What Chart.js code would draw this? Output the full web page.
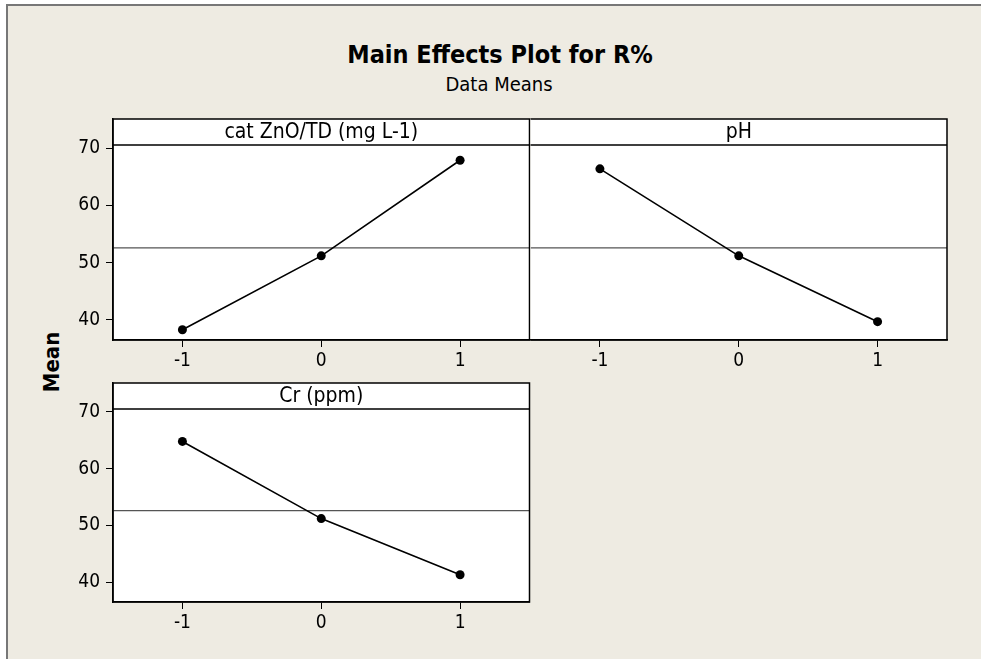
<!DOCTYPE html>
<html>
<head>
<meta charset="utf-8">
<title>Main Effects Plot for R%</title>
<script src="https://cdn.jsdelivr.net/npm/chart.js@4.4.1/dist/chart.umd.min.js"></script>
<style>
  html, body { margin: 0; padding: 0; background: #ffffff; }
  #page {
    position: relative; width: 981px; height: 659px; overflow: hidden; background: #ffffff;
    font-family: 'DejaVu Sans Condensed', 'DejaVu Sans', sans-serif; color: #000;
  }
  #frame {
    position: absolute; left: 6px; top: 4px; right: 0; bottom: 0;
    background: #EEEBE2; border-left: 2px solid #777; border-top: 2px solid #777;
  }
  .txt { position: absolute; white-space: nowrap; text-align: center; }
  #mainTitle { left: 0; width: 1000px; top: 39px; font-size: 25px; font-weight: bold; line-height: 32px; }
  #subTitle { left: 0; width: 998px; top: 72px; font-size: 20px; line-height: 24px; }
  #yTitle {
    left: 52px; top: 362px; font-size: 22px; font-weight: bold; line-height: 24px;
    transform: translate(-50%, -50%) rotate(-90deg);
  }
  canvas { position: absolute; }
</style>
</head>
<body>
<div id="page">
  <div id="frame"></div>
  <div class="txt" id="mainTitle">Main Effects Plot for R%</div>
  <div class="txt" id="subTitle">Data Means</div>
  <div class="txt" id="yTitle">Mean</div>
  <canvas id="pZnO" width="494" height="270" style="left:40px;top:110px;"></canvas>
  <canvas id="pPH" width="434" height="270" style="left:526px;top:110px;"></canvas>
  <canvas id="pCr" width="494" height="270" style="left:40px;top:374px;"></canvas>
</div>
<script>
// Factor levels (coded) and the mean response R% at each level
const levels = [-1, 0, 1];
const catZnOMeans = [38.3, 51.2, 67.9];
const pHMeans = [66.4, 51.2, 39.7];
const crMeans = [64.8, 51.2, 41.3];
const grandMean = 52.6;

// Axis ticks and panel labels
const xTickValues = [-1, 0, 1];
const yTickValues = [40, 50, 60, 70];
const panelLabels = ['cat ZnO/TD (mg L-1)', 'pH', 'Cr (ppm)'];

const FONT = "'DejaVu Sans Condensed', 'DejaVu Sans', sans-serif";
const STRIP_H = 26;   // height of the label strip at the top of each panel

// White panel background, panel outline and the label strip
const panelFrame = {
  id: 'panelFrame',
  beforeDraw(chart) {
    const { ctx, chartArea: a } = chart;
    ctx.save();
    ctx.fillStyle = '#ffffff';
    ctx.fillRect(a.left, a.top, a.right - a.left, a.bottom - a.top);
    ctx.restore();
  },
  afterDraw(chart, args, opts) {
    const { ctx, chartArea: a } = chart;
    ctx.save();
    ctx.strokeStyle = '#000';
    ctx.lineWidth = 1.5;
    ctx.beginPath();
    // the panel to the left already draws the shared edge
    if (opts.leftEdge) { ctx.moveTo(a.left, a.bottom); ctx.lineTo(a.left, a.top); } else { ctx.moveTo(a.left, a.top); }
    ctx.lineTo(a.right, a.top);
    ctx.lineTo(a.right, a.bottom);
    ctx.lineTo(a.left, a.bottom);
    ctx.moveTo(a.left, a.top + STRIP_H);
    ctx.lineTo(a.right, a.top + STRIP_H);
    ctx.stroke();
    ctx.fillStyle = '#000';
    ctx.font = '21px ' + FONT;
    ctx.textAlign = 'center';
    ctx.textBaseline = 'middle';
    ctx.fillText(opts.label, (a.left + a.right) / 2, a.top + STRIP_H / 2 + 1);
    ctx.restore();
  }
};

function noPad(s) {
  s.paddingTop = 0; s.paddingBottom = 0; s.paddingLeft = 0; s.paddingRight = 0;
}

function makePanel(id, means, label, cfg) {
  return new Chart(document.getElementById(id), {
    type: 'line',
    data: {
      datasets: [
        {
          data: levels.map((x, i) => ({ x: x, y: means[i] })),
          borderColor: '#000', backgroundColor: '#000', borderWidth: 1.6,
          pointRadius: 4.5, pointBackgroundColor: '#000', pointBorderWidth: 0,
          tension: 0
        },
        {
          data: [{ x: -1.5, y: grandMean }, { x: 1.5, y: grandMean }],
          borderColor: '#555', borderWidth: 1.2, pointRadius: 0
        }
      ]
    },
    options: {
      responsive: false,
      animation: false,
      events: [],
      layout: { padding: cfg.padding },
      plugins: {
        legend: { display: false },
        tooltip: { enabled: false },
        panelFrame: { label: label, leftEdge: cfg.showY }
      },
      scales: {
        x: {
          type: 'linear', min: -1.5, max: 1.5,
          afterBuildTicks: s => { s.ticks = xTickValues.map(v => ({ value: v })); },
          afterFit: s => { s.height = cfg.xHeight; noPad(s); },
          grid: { drawOnChartArea: false, drawTicks: true, tickLength: 7, color: '#000', lineWidth: 1 },
          border: { display: true, color: '#000', width: 1.5 },
          ticks: { color: '#000', font: { family: FONT, size: 19 }, padding: 3, maxRotation: 0 }
        },
        y: {
          type: 'linear', min: 36.5, max: 75.1,
          display: cfg.showY,
          afterBuildTicks: s => { s.ticks = yTickValues.map(v => ({ value: v })); },
          afterFit: s => { s.width = cfg.yWidth; noPad(s); },
          grid: { drawOnChartArea: false, drawTicks: true, tickLength: 7, color: '#000', lineWidth: 1 },
          border: { display: true, color: '#000', width: 1.5 },
          ticks: { color: '#000', font: { family: FONT, size: 19 }, padding: 6 }
        }
      }
    },
    plugins: [panelFrame]
  });
}

makePanel('pZnO', catZnOMeans, panelLabels[0], { showY: true, yWidth: 73, xHeight: 40, padding: { top: 9, right: 0, left: 0, bottom: 0 } });
makePanel('pPH', pHMeans, panelLabels[1], { showY: false, yWidth: 0, xHeight: 40, padding: { top: 9, right: 13, left: 0, bottom: 0 } });
makePanel('pCr', crMeans, panelLabels[2], { showY: true, yWidth: 73, xHeight: 42, padding: { top: 9, right: 0, left: 0, bottom: 0 } });
</script>
</body>
</html>
